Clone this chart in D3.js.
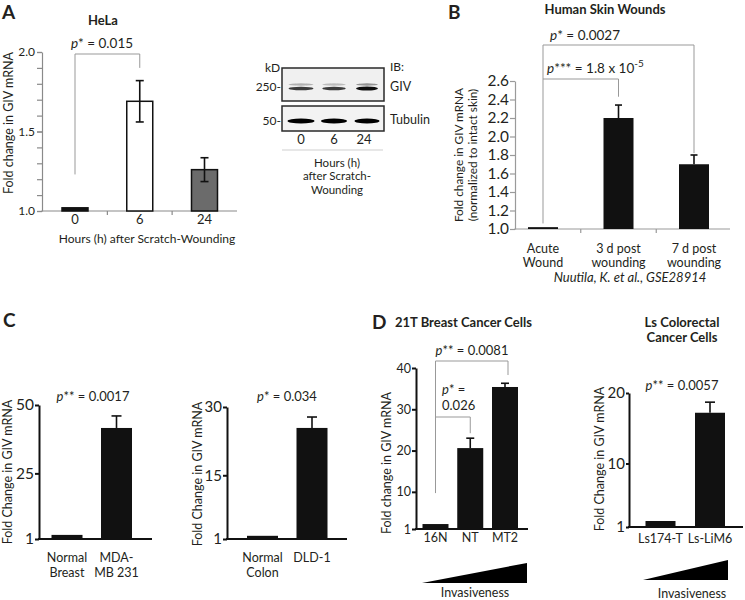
<!DOCTYPE html>
<html><head><meta charset="utf-8">
<script src="https://cdn.jsdelivr.net/npm/d3@7"></script>
<style>
body{margin:0;background:#fff;}
svg{display:block;font-family:Lato,"Open Sans",sans-serif;}
</style></head><body>
<svg id="fig" width="745" height="600"></svg>
<script>
// ---------- DATA ----------
// Panel A (HeLa)
const aCategories = ["0", "6", "24"];
const aValues = [1.02, 1.69, 1.26];
const aErrors = [0, 0.13, 0.075];
const aTicks = [1.0, 1.5, 2.0];
const aMinorTicks = [1.0, 1.1, 1.2, 1.3, 1.4, 1.5, 1.6, 1.7, 1.8, 1.9, 2.0];
// Western blot (Panel A)
const blotLanes = ["0", "6", "24"];
const blotGivIntensity = [0.8, 0.8, 1.0];
const blotGivUpperIntensity = [0.3, 0.25, 0.45];
const blotTubulinIntensity = [1.0, 1.0, 1.0];
const blotMarkers = ["250-", "50-"];
const blotAntibodies = ["GIV", "Tubulin"];
// Panel B (Human Skin Wounds)
const bCategories = [["Acute", "Wound"], ["3 d post", "wounding"], ["7 d post", "wounding"]];
const bValues = [1.02, 2.2, 1.70];
const bErrors = [0, 0.14, 0.10];
const bTicks = [1.0, 1.2, 1.4, 1.6, 1.8, 2.0, 2.2, 2.4, 2.6];
// Panel C
const cBreastCategories = [["Normal", "Breast"], ["MDA-", "MB 231"]];
const cBreastValues = [2.5, 41.6];
const cBreastErrors = [0, 4.4];
const cBreastTicks = [1, 25, 50];
const cColonCategories = [["Normal", "Colon"], ["DLD-1"]];
const cColonValues = [1.7, 25.4];
const cColonErrors = [0, 2.4];
const cColonTicks = [1, 15, 30];
// Panel D
const d21tCategories = [["16N"], ["NT"], ["MT2"]];
const d21tValues = [2.2, 20.6, 35.4];
const d21tErrors = [0, 2.4, 0.9];
const d21tTicks = [1, 10, 20, 30, 40];
const dLsCategories = [["Ls174-T"], ["Ls-LiM6"]];
const dLsValues = [1.85, 17.2];
const dLsErrors = [0, 1.5];
const dLsTicks = [1, 10, 20];

// ---------- DRAWING ----------
const svg = d3.select("#fig");
const TXT = "#231f20";

function text(x, y, str, opt = {}) {
  const t = svg.append("text").attr("x", x).attr("y", y)
    .attr("font-size", opt.size || 12.5)
    .attr("fill", opt.fill || TXT)
    .attr("text-anchor", opt.anchor || "start")
    .text(str);
  if (opt.bold) t.attr("font-weight", "bold");
  if (opt.italic) t.attr("font-style", "italic");
  return t;
}
function pText(x, y, stars, rest, opt = {}) {
  const t = svg.append("text").attr("x", x).attr("y", y)
    .attr("font-size", opt.size || 13).attr("fill", TXT)
    .attr("text-anchor", opt.anchor || "middle");
  t.append("tspan").attr("font-style", "italic").text("p");
  t.append("tspan").text(stars + " = " + rest);
  return t;
}
function rotLabel(x, y, lines, size, lh) {
  const t = svg.append("text").attr("transform", `translate(${x},${y}) rotate(-90)`)
    .attr("font-size", size).attr("fill", TXT).attr("text-anchor", "middle");
  lines.forEach((l, i) => t.append("tspan").attr("x", 0).attr("y", i * lh).text(l));
}
function line(x1, y1, x2, y2, color, w) {
  svg.append("line").attr("x1", x1).attr("y1", y1).attr("x2", x2).attr("y2", y2)
    .attr("stroke", color).attr("stroke-width", w);
}

function barPanel(c) {
  const g = svg.append("g");
  const y = d3.scaleLinear().domain(c.domain).range([c.yBase, c.yTop]);
  const x = d3.scalePoint().domain(d3.range(c.categories.length)).range(c.centers);
  // y axis
  const ax = g.append("g").attr("transform", `translate(${c.axisX},0)`)
    .call(d3.axisLeft(y).tickValues(c.ticks).tickFormat(c.fmt || d3.format("d"))
      .tickSize(c.tickLen).tickSizeOuter(0).tickPadding(c.tickPad || 2));
  ax.select(".domain").attr("stroke", c.axisColor).attr("stroke-width", c.axisW);
  ax.selectAll(".tick line").attr("stroke", c.axisColor).attr("stroke-width", c.axisW);
  ax.selectAll(".tick text").attr("font-size", c.tickFont).attr("fill", TXT)
    .attr("font-family", "Lato, 'Open Sans', sans-serif");
  if (c.minor) {
    const mx = g.append("g").attr("transform", `translate(${c.axisX},0)`)
      .call(d3.axisLeft(y).tickValues(c.minor).tickFormat("").tickSize(c.tickLen).tickSizeOuter(0));
    mx.select(".domain").remove();
    mx.selectAll(".tick line").attr("stroke", c.axisColor).attr("stroke-width", c.axisW);
  }
  // x axis line
  g.append("line").attr("x1", c.axisX - c.axisW / 2).attr("x2", c.xEnd)
    .attr("y1", c.yBase).attr("y2", c.yBase)
    .attr("stroke", c.axisColor).attr("stroke-width", c.axisW);
  if (c.xTicks) {
    const idx = d3.range(c.categories.length - 1);
    g.selectAll(".xt").data(idx).join("line")
      .attr("x1", i => (x(i) + x(i + 1)) / 2).attr("x2", i => (x(i) + x(i + 1)) / 2)
      .attr("y1", c.yBase).attr("y2", c.yBase + 4)
      .attr("stroke", c.axisColor).attr("stroke-width", c.axisW);
  }
  // bars
  const idx = d3.range(c.values.length);
  g.selectAll(".bar").data(idx).join("rect")
    .attr("x", i => x(i) - c.bw / 2).attr("width", c.bw)
    .attr("y", i => y(c.values[i]))
    .attr("height", i => c.yBase - y(c.values[i]))
    .attr("fill", i => c.fills ? c.fills[i] : "#111")
    .attr("stroke", c.barStroke || "none").attr("stroke-width", c.barStrokeW || 0);
  // error bars
  const eg = g.append("g").attr("stroke", "#111").attr("stroke-width", 1.6);
  idx.filter(i => c.errors[i] > 0).forEach(i => {
    const cx = x(i), top = y(c.values[i] + c.errors[i]);
    const bot = c.errBoth ? y(c.values[i] - c.errors[i]) : y(c.values[i]);
    eg.append("line").attr("x1", cx).attr("x2", cx).attr("y1", top).attr("y2", bot);
    eg.append("line").attr("x1", cx - c.cap / 2).attr("x2", cx + c.cap / 2).attr("y1", top).attr("y2", top);
    if (c.errBoth) eg.append("line").attr("x1", cx - c.cap / 2).attr("x2", cx + c.cap / 2).attr("y1", bot).attr("y2", bot);
  });
  // x labels
  c.categories.forEach((lab, i) => {
    const lines = Array.isArray(lab) ? lab : [lab];
    const t = g.append("text").attr("text-anchor", "middle").attr("font-size", c.labFont)
      .attr("fill", TXT);
    lines.forEach((l, k) => t.append("tspan").attr("x", x(i) + (c.labDx || 0)).attr("y", c.labY + k * c.labLH).text(l));
  });
  return { x, y };
}

// ===== Panel A =====
text(2, 19, "A", { size: 19, bold: true });
text(103, 25, "HeLa", { size: 13, bold: true, anchor: "middle" });
const A = barPanel({
  domain: [1, 2], yBase: 211, yTop: 52, axisX: 42, xEnd: 237,
  centers: [75, 204.5], bw: 26, categories: aCategories, values: aValues, errors: aErrors,
  ticks: aTicks, minor: aMinorTicks, fmt: d3.format(".1f"), tickLen: 5, tickFont: 12,
  axisColor: "#8a8a8a", axisW: 1.2, xTicks: true,
  fills: ["#111", "#fff", "#6b6b6b"], barStroke: "#111", barStrokeW: 1.5,
  errBoth: true, cap: 8, labY: 224, labFont: 13, labLH: 14
});
text(147, 243, "Hours (h) after Scratch-Wounding", { size: 12, anchor: "middle" });
rotLabel(13, 123, ["Fold change in GIV mRNA"], 12.5, 0);
{
  const bx0 = A.x(0), bx1 = A.x(1), by = A.y(2.0) + 2;
  line(bx0, by, bx1, by, "#999", 1);
  line(bx0, by, bx0, A.y(1.23), "#999", 1);
  line(bx1, by, bx1, A.y(1.90), "#999", 1);
  pText(102, 48, "*", "0.015", { size: 13.5 });
}

// ===== Western blot =====
{
  const defs = svg.append("defs");
  defs.append("filter").attr("id", "blur").attr("x", "-20%").attr("y", "-100%")
    .attr("width", "140%").attr("height", "300%")
    .append("feGaussianBlur").attr("stdDeviation", 0.7);
  const lx = d3.scalePoint().domain(blotLanes).range([301, 367]);
  text(265, 72, "kD", { size: 12 });
  // boxes
  svg.append("rect").attr("x", 282).attr("y", 68).attr("width", 102).attr("height", 33)
    .attr("fill", "#f0f0f0").attr("stroke", "#2a2a2a").attr("stroke-width", 1.5);
  svg.append("rect").attr("x", 282).attr("y", 106).attr("width", 102).attr("height", 25)
    .attr("fill", "#f3f3f3").attr("stroke", "#2a2a2a").attr("stroke-width", 1.5);
  text(281, 91, blotMarkers[0], { size: 12, anchor: "end" });
  text(281, 125, blotMarkers[1], { size: 12, anchor: "end" });
  const bg = svg.append("g").attr("filter", "url(#blur)");
  blotLanes.forEach((l, i) => {
    const cx = lx(l), w = 25 - i * 1.5;
    bg.append("ellipse").attr("cx", cx).attr("cy", 84.5).attr("rx", w / 2).attr("ry", 1.2)
      .attr("fill", "#222").attr("opacity", blotGivUpperIntensity[i]);
    bg.append("ellipse").attr("cx", cx).attr("cy", 88.5).attr("rx", w / 2).attr("ry", 1.1 + blotGivIntensity[i] * 0.9)
      .attr("fill", "#111").attr("opacity", blotGivIntensity[i]);
    bg.append("ellipse").attr("cx", cx).attr("cy", 121).attr("rx", 13.5 - i * 0.5).attr("ry", 2.6)
      .attr("fill", "#000").attr("opacity", blotTubulinIntensity[i]);
  });
  text(390, 71, "IB:", { size: 12 });
  text(390, 91, blotAntibodies[0], { size: 12.5 });
  text(390, 124, blotAntibodies[1], { size: 12.5 });
  blotLanes.forEach(l => text(lx(l) + (l === "24" ? -3 : 0), 144, l, { size: 13, anchor: "middle" }));
  line(282, 150, 383, 150, "#cfcfcf", 1);
  text(337, 166.5, "Hours (h)", { size: 11.5, anchor: "middle" });
  text(337, 180, "after Scratch-", { size: 11.5, anchor: "middle" });
  text(337, 193.5, "Wounding", { size: 11.5, anchor: "middle" });
}

// ===== Panel B =====
text(448, 19, "B", { size: 19, bold: true });
text(605, 14, "Human Skin Wounds", { size: 13, bold: true, anchor: "middle" });
const B = barPanel({
  domain: [1, 2.6], yBase: 229, yTop: 81, axisX: 515, xEnd: 730,
  centers: [543, 694], bw: 30, categories: bCategories, values: bValues, errors: bErrors,
  ticks: bTicks, fmt: d3.format(".1f"), tickLen: 5, tickFont: 15.4, tickPad: 1,
  axisColor: "#9a9a9a", axisW: 1.2, xTicks: true,
  errBoth: false, cap: 7, labY: 253, labFont: 12.5, labLH: 14
});
text(630, 282, "Nuutila, K. et al., GSE28914", { size: 13, italic: true, anchor: "middle" });
rotLabel(463, 155, ["Fold change in GIV mRNA", "(normalized to intact skin)"], 11.8, 14);
{
  const x0 = B.x(0), x1 = B.x(1), x2 = B.x(2);
  line(x0, 45, x2, 45, "#999", 1);
  line(x0, 45, x0, B.y(1.06), "#999", 1);
  line(x2, 45, x2, B.y(1.82), "#999", 1);
  line(x0, 79, x1, 79, "#999", 1);
  line(x1, 79, x1, B.y(2.43), "#999", 1);
  pText(585, 40, "*", "0.0027", { size: 13.5 });
  const t = svg.append("text").attr("x", 547).attr("y", 73).attr("font-size", 13.5).attr("fill", TXT);
  t.append("tspan").attr("font-style", "italic").text("p");
  t.append("tspan").text("*** = 1.8 x 10");
  t.append("tspan").attr("font-size", 10).attr("dy", -6).text("-5");
}

// ===== Panel C =====
text(3, 327, "C", { size: 19, bold: true });
barPanel({
  domain: [1, 50], yBase: 539, yTop: 405, axisX: 39, xEnd: 152,
  centers: [67, 116.5], bw: 31, categories: cBreastCategories, values: cBreastValues, errors: cBreastErrors,
  ticks: cBreastTicks, tickLen: 4, tickFont: 15.5, tickPad: 1,
  axisColor: "#111", axisW: 2, errBoth: false, cap: 10, labY: 562, labFont: 12.5, labLH: 15
});
rotLabel(12, 472, ["Fold Change in GIV mRNA"], 12.5, 0);
pText(93, 401, "**", "0.0017");
barPanel({
  domain: [1, 30], yBase: 539, yTop: 407, axisX: 227, xEnd: 347,
  centers: [262.5, 312], bw: 31, categories: cColonCategories, values: cColonValues, errors: cColonErrors,
  ticks: cColonTicks, tickLen: 4, tickFont: 15, tickPad: 1,
  axisColor: "#111", axisW: 2, errBoth: false, cap: 10, labY: 562, labFont: 12.5, labLH: 15
});
rotLabel(202, 474, ["Fold Change in GIV mRNA"], 12.5, 0);
pText(287, 401, "*", "0.034");

// ===== Panel D =====
text(372, 329, "D", { size: 19, bold: true });
text(395, 327, "21T Breast Cancer Cells", { size: 13, bold: true });
const DL = barPanel({
  domain: [1, 40], yBase: 529, yTop: 368, axisX: 416, xEnd: 528,
  centers: [435.5, 505], bw: 26, categories: d21tCategories, values: d21tValues, errors: d21tErrors,
  ticks: d21tTicks, tickLen: 4, tickFont: 12.5, tickPad: 1,
  axisColor: "#111", axisW: 2, errBoth: false, cap: 8, labY: 542, labFont: 12.5, labLH: 14
});
rotLabel(391, 463, ["Fold change in GIV mRNA"], 12.5, 0);
{
  const x0 = DL.x(0), x1 = DL.x(1), x2 = DL.x(2) + 3;
  line(x0, 361, x2, 361, "#999", 1);
  line(x0, 361, x0, DL.y(9.7), "#999", 1);
  line(x2, 361, x2, DL.y(38.3), "#999", 1);
  line(x0, 417, x1, 417, "#999", 1);
  line(x1, 417, x1, DL.y(24.2), "#999", 1);
  pText(472, 355, "**", "0.0081");
  pText(442, 394, "*", "", { anchor: "start" });
  text(442, 410, "0.026", { size: 13 });
}
svg.append("path").attr("d", d3.line()([[422, 583], [527, 583], [527, 563]]) + "Z").attr("fill", "#000");
text(475, 597, "Invasiveness", { size: 12.5, anchor: "middle" });

text(682, 327, "Ls Colorectal", { size: 13, bold: true, anchor: "middle" });
text(682, 342, "Cancer Cells", { size: 13, bold: true, anchor: "middle" });
barPanel({
  domain: [1, 20], yBase: 527, yTop: 393, axisX: 629, xEnd: 743,
  centers: [660.5, 710], bw: 30, categories: dLsCategories, values: dLsValues, errors: dLsErrors,
  ticks: dLsTicks, tickLen: 3, tickFont: 15, tickPad: 1,
  axisColor: "#111", axisW: 2, errBoth: false, cap: 10, labY: 543, labFont: 12.5, labLH: 14
});
rotLabel(604, 459, ["Fold Change in GIV mRNA"], 12.5, 0);
pText(682, 390, "**", "0.0057");
svg.append("path").attr("d", d3.line()([[643, 580], [728, 580], [728, 560]]) + "Z").attr("fill", "#000");
text(692, 598, "Invasiveness", { size: 12.5, anchor: "middle" });
</script>
</body></html>
